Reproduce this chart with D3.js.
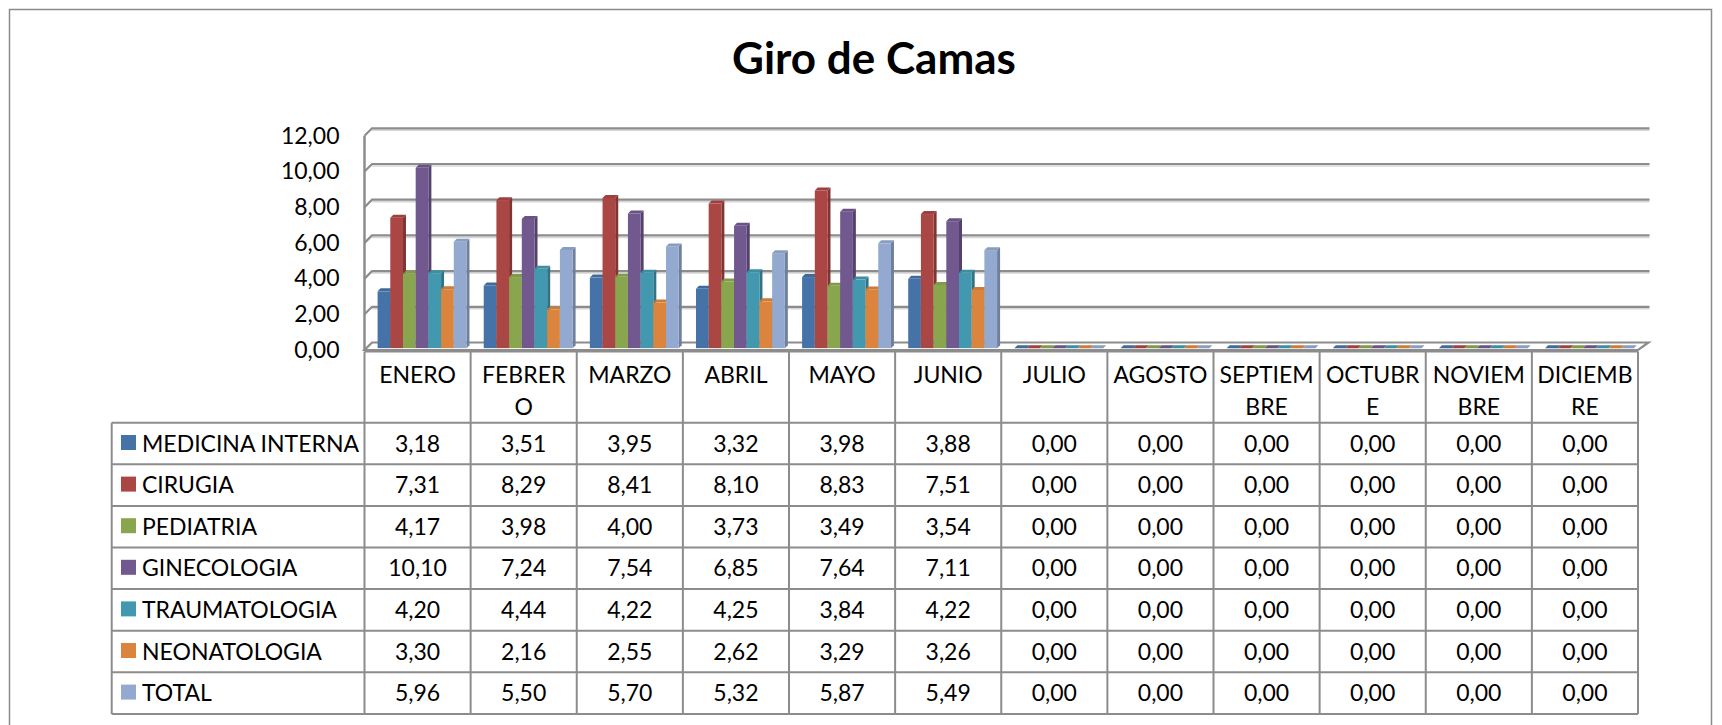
<!DOCTYPE html>
<html>
<head>
<meta charset="utf-8">
<script src="https://cdn.jsdelivr.net/npm/d3@7"></script>
<style>
  body { margin: 0; background: #fff; }
  svg text { font-family: Lato, "Open Sans", sans-serif; fill: #000; }
</style>
</head>
<body>
<div id="chart"></div>
<script>
// data
var months = ["ENERO", "FEBRERO", "MARZO", "ABRIL", "MAYO", "JUNIO", "JULIO",
    "AGOSTO", "SEPTIEMBRE", "OCTUBRE", "NOVIEMBRE", "DICIEMBRE"];
// how the month names wrap inside the table header
var monthLabels = [["ENERO"], ["FEBRER", "O"], ["MARZO"], ["ABRIL"], ["MAYO"], ["JUNIO"],
    ["JULIO"], ["AGOSTO"], ["SEPTIEM", "BRE"], ["OCTUBR", "E"], ["NOVIEM", "BRE"], ["DICIEMB", "RE"]];
var seriesNames = ["MEDICINA INTERNA", "CIRUGIA", "PEDIATRIA", "GINECOLOGIA",
    "TRAUMATOLOGIA", "NEONATOLOGIA", "TOTAL"];
var medicinaInterna = [3.18, 3.51, 3.95, 3.32, 3.98, 3.88, 0, 0, 0, 0, 0, 0];
var cirugia         = [7.31, 8.29, 8.41, 8.10, 8.83, 7.51, 0, 0, 0, 0, 0, 0];
var pediatria       = [4.17, 3.98, 4.00, 3.73, 3.49, 3.54, 0, 0, 0, 0, 0, 0];
var ginecologia     = [10.10, 7.24, 7.54, 6.85, 7.64, 7.11, 0, 0, 0, 0, 0, 0];
var traumatologia   = [4.20, 4.44, 4.22, 4.25, 3.84, 4.22, 0, 0, 0, 0, 0, 0];
var neonatologia    = [3.30, 2.16, 2.55, 2.62, 3.29, 3.26, 0, 0, 0, 0, 0, 0];
var total           = [5.96, 5.50, 5.70, 5.32, 5.87, 5.49, 0, 0, 0, 0, 0, 0];
var yTicks = [0, 2, 4, 6, 8, 10, 12];

var seriesValues = [medicinaInterna, cirugia, pediatria, ginecologia, traumatologia, neonatologia, total];
var colors = ["#4572A7", "#AA4643", "#89A54E", "#71588F", "#4198AF", "#DB843D", "#93A9CF"];

var width = 1722, height = 725;
var depth = 7.5;              // 3d offset of the back wall (px right / px up)
var barFront = 0.25 * depth,  // bars sit between these depths
    barBack = 0.65 * depth;
var gridColor = "#8c8c8c";

var locale = d3.formatLocale({ decimal: ",", thousands: ".", grouping: [3], currency: ["", ""] });
var fmt = locale.format(".2f");

var svg = d3.select("#chart").append("svg")
    .attr("width", width)
    .attr("height", height);

// chart area border
svg.append("rect")
    .attr("x", 9.5).attr("y", 9.5)
    .attr("width", 1702).attr("height", 760)
    .attr("fill", "none")
    .attr("stroke", "#8a8a8a")
    .attr("stroke-width", 1.5);

svg.append("text")
    .attr("x", 874)
    .attr("y", 74)
    .attr("text-anchor", "middle")
    .style("font-size", "44px")
    .style("font-weight", "bold")
    .text("Giro de Camas");

// scales (front plane)
var x0 = d3.scaleBand().domain(months).range([364.5, 1638]).paddingInner(0).paddingOuter(0);
var x1 = d3.scaleBand().domain(seriesNames).range([0, x0.bandwidth()])
    .paddingInner(0).paddingOuter(0.68).align(0.65);
var y = d3.scaleLinear().domain([0, 12]).range([350, 135.8]);

var xLeft = x0.range()[0], xRight = x0.range()[1];

// back wall gridlines + little diagonals on the side wall
var grid = svg.append("g").attr("class", "grid");
grid.selectAll("line.shadow")
    .data(yTicks.slice(1)).enter()
    .append("line")
    .attr("class", "shadow")
    .attr("x1", xLeft + depth).attr("x2", xRight + depth + 4)
    .attr("y1", function (d) { return y(d) - depth + 2; })
    .attr("y2", function (d) { return y(d) - depth + 2; })
    .attr("stroke", "#d6d6d6").attr("stroke-width", 1.5);
grid.selectAll("polyline")
    .data(yTicks.slice(1)).enter()
    .append("polyline")
    .attr("points", function (d) {
        return [[xLeft, y(d)], [xLeft + depth, y(d) - depth], [xRight + depth + 4, y(d) - depth]].join(" ");
    })
    .attr("fill", "none")
    .attr("stroke", gridColor).attr("stroke-width", 2.2);

// side wall edge
svg.append("line")
    .attr("x1", xLeft).attr("x2", xLeft)
    .attr("y1", y(12)).attr("y2", y(0))
    .attr("stroke", gridColor).attr("stroke-width", 2.5);

// floor
svg.append("polygon")
    .attr("points", [[xLeft, y(0)], [xRight, y(0)], [xRight + depth + 3, y(0) - depth],
        [xLeft + depth, y(0) - depth]].join(" "))
    .attr("fill", "#fff")
    .attr("stroke", gridColor).attr("stroke-width", 2.2);

// y axis labels
var yAxis = svg.append("g")
    .attr("transform", "translate(" + xLeft + ",0)")
    .call(d3.axisLeft(y).tickValues(yTicks).tickFormat(fmt).tickSize(0).tickPadding(25));
yAxis.select(".domain").remove();
yAxis.selectAll("text")
    .style("font-size", "23px")
    .style("font-family", "Lato, 'Open Sans', sans-serif")
    .attr("fill", "#000");

// 3d bars
var bars = [];
months.forEach(function (m, i) {
    seriesNames.forEach(function (s, j) {
        bars.push({ month: m, series: s, value: seriesValues[j][i], color: colors[j] });
    });
});

var bw = x1.bandwidth();
var barG = svg.append("g").attr("class", "bars")
    .selectAll("g").data(bars).enter().append("g");

function bx(d) { return x0(d.month) + x1(d.series); }

// right side
barG.append("polygon")
    .attr("points", function (d) {
        var xr = bx(d) + bw, yt = y(d.value), yb = y(0);
        return [[xr + barFront, yt - barFront], [xr + barBack, yt - barBack],
            [xr + barBack, yb - barBack], [xr + barFront, yb - barFront]].join(" ");
    })
    .attr("fill", function (d) { return d3.color(d.color).darker(0.8); });
// top
barG.append("polygon")
    .attr("points", function (d) {
        var xl = bx(d), yt = y(d.value);
        return [[xl + barFront, yt - barFront], [xl + bw + barFront, yt - barFront],
            [xl + bw + barBack, yt - barBack], [xl + barBack, yt - barBack]].join(" ");
    })
    .attr("fill", function (d) { return d3.color(d.color).darker(0.2); });
// front
barG.append("rect")
    .attr("x", function (d) { return bx(d) + barFront; })
    .attr("y", function (d) { return y(d.value) - barFront; })
    .attr("width", bw)
    .attr("height", function (d) { return y(0) - y(d.value); })
    .attr("fill", function (d) { return d.color; });

// data table
var tableTop = 351.5, headerBottom = 422.7, rowH = 41.6, labelLeft = 111.7;
var rowY = function (r) { return headerBottom + r * rowH; };
var tableBottom = rowY(seriesNames.length);
var table = svg.append("g").attr("class", "table");

// month header labels
var head = table.selectAll("text.month")
    .data(monthLabels).enter()
    .append("text")
    .attr("class", "month")
    .attr("text-anchor", "middle")
    .style("font-size", "23px")
    .attr("transform", function (d, i) { return "translate(" + (x0(months[i]) + x0.bandwidth() / 2) + ",0)"; });
head.selectAll("tspan")
    .data(function (d) { return d; }).enter()
    .append("tspan")
    .attr("x", 0)
    .attr("y", function (d, k) { return 383 + k * 32; })
    .text(function (d) { return d; });

// series rows
var rows = table.selectAll("g.row")
    .data(seriesNames).enter()
    .append("g")
    .attr("class", "row")
    .attr("transform", function (d, r) { return "translate(0," + rowY(r) + ")"; });

rows.append("rect")
    .attr("x", 121).attr("y", rowH / 2 - 8.5)
    .attr("width", 15).attr("height", 15)
    .attr("fill", function (d, r) { return colors[r]; });
rows.append("text")
    .attr("x", 142).attr("y", rowH / 2)
    .attr("dy", "0.35em")
    .style("font-size", "23px")
    .text(function (d) { return d; });

rows.selectAll("text.val")
    .data(function (d, r) { return seriesValues[r]; }).enter()
    .append("text")
    .attr("class", "val")
    .attr("x", function (d, i) { return x0(months[i]) + x0.bandwidth() / 2; })
    .attr("y", rowH / 2)
    .attr("dy", "0.35em")
    .attr("text-anchor", "middle")
    .style("font-size", "23px")
    .text(function (d) { return fmt(d); });

// table grid lines
var hLines = [{ y: tableTop, x1: xLeft }];
for (var r = 0; r <= seriesNames.length; r++) hLines.push({ y: rowY(r), x1: labelLeft });
table.selectAll("line.h")
    .data(hLines).enter()
    .append("line")
    .attr("class", "h")
    .attr("x1", function (d) { return d.x1; }).attr("x2", xRight)
    .attr("y1", function (d) { return d.y; }).attr("y2", function (d) { return d.y; })
    .attr("stroke", gridColor).attr("stroke-width", 2);

var vLines = months.map(function (m) { return x0(m); }).concat([xRight]);
table.selectAll("line.v")
    .data(vLines).enter()
    .append("line")
    .attr("class", "v")
    .attr("x1", function (d) { return d; }).attr("x2", function (d) { return d; })
    .attr("y1", tableTop).attr("y2", tableBottom)
    .attr("stroke", gridColor).attr("stroke-width", 2);
table.append("line")
    .attr("x1", labelLeft).attr("x2", labelLeft)
    .attr("y1", headerBottom).attr("y2", tableBottom)
    .attr("stroke", gridColor).attr("stroke-width", 2);
</script>
</body>
</html>
